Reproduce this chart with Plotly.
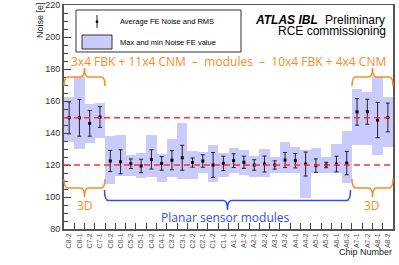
import plotly.graph_objects as go

chips = ["C8-2", "C8-1", "C7-2", "C7-1", "C6-2", "C6-1", "C5-2", "C5-1",
         "C4-2", "C4-1", "C3-2", "C3-1", "C2-2", "C2-1", "C1-2", "C1-1",
         "A1-1", "A1-2", "A2-1", "A2-2", "A3-1", "A3-2", "A4-1", "A4-2",
         "A5-1", "A5-2", "A6-1", "A6-2", "A7-1", "A7-2", "A8-1", "A8-2"]
avg_noise = [149.5, 149.5, 146.0, 150.0, 122.5, 122.0, 120.8, 119.4,
             123.5, 121.0, 123.0, 124.5, 121.5, 122.5, 120.0, 121.0,
             122.7, 121.7, 120.0, 120.6, 120.0, 123.1, 122.7, 120.6,
             119.6, 120.0, 120.6, 121.2, 153.2, 153.3, 148.1, 149.7]
rms_noise = [10.0, 11.5, 8.0, 6.5, 6.6, 7.5, 3.0, 4.2,
             6.0, 4.3, 6.0, 7.8, 2.9, 3.9, 7.8, 4.5,
             4.3, 3.8, 3.3, 5.0, 2.6, 4.7, 4.5, 7.5,
             4.2, 1.7, 4.9, 7.3, 8.3, 7.8, 11.0, 9.0]
max_noise = [162.7, 175.2, 157.9, 158.5, 138.3, 139.0, 126.3, 127.3,
             138.8, 127.1, 136.0, 146.0, 128.8, 128.3, 132.5, 127.3,
             130.4, 129.4, 125.8, 129.8, 124.8, 134.2, 131.5, 129.4,
             130.4, 125.2, 133.1, 141.4, 167.5, 165.8, 174.8, 162.7]
min_noise = [134.6, 129.8, 133.6, 136.7, 108.0, 113.0, 113.0, 111.7,
             112.5, 109.6, 112.7, 111.0, 111.0, 115.2, 109.6, 112.7,
             114.8, 113.7, 112.7, 112.3, 114.8, 115.2, 114.8, 99.2,
             114.8, 114.8, 114.8, 108.5, 132.5, 132.5, 126.3, 131.5]
ref_levels = [149.5, 120.0]

W, H = 399, 265
X0, X1, Y0, Y1 = 64, 393, 5, 229


def px(x):
    return (x - X0) / (X1 - X0)


def py(y):
    return (Y1 - y) / (Y1 - Y0)


def path(cmds):
    out = []
    for c in cmds:
        op = c[0]
        nums = c[1:]
        pts = []
        for i in range(0, len(nums), 2):
            pts.append(f"{px(nums[i]):.5f},{py(nums[i+1]):.5f}")
        out.append(op + " " + " ".join(pts))
    return " ".join(out)


def brace_h(xl, xr, yend, ybar, ytip, r=4):
    xc = (xl + xr) / 2
    return path([
        ("M", xl, yend),
        ("Q", xl, ybar, xl + r, ybar),
        ("L", xc - r, ybar),
        ("Q", xc, ybar, xc, ytip),
        ("Q", xc, ybar, xc + r, ybar),
        ("L", xr - r, ybar),
        ("Q", xr, ybar, xr, yend),
    ])


ORANGE = "#FA8A28"
BLUE = "#2F4CF5"
BOXC = "#CACAFC"

fig = go.Figure()
fig.add_trace(go.Bar(
    x=chips, y=[a - b for a, b in zip(max_noise, min_noise)], base=min_noise,
    width=1, marker=dict(color=BOXC, line=dict(width=0)), showlegend=False,
))
fig.add_trace(go.Scatter(
    x=chips, y=avg_noise, mode="markers",
    marker=dict(symbol="square", size=3, color="black"),
    error_y=dict(type="data", array=rms_noise, color="#222222", thickness=1, width=2),
    showlegend=False,
))

shapes = []
for lv in ref_levels:
    shapes.append(dict(type="line", xref="paper", yref="y", x0=0, x1=1, y0=lv, y1=lv,
                       line=dict(color="#FF3030", width=1.5, dash="6px,4px")))

# legend box
shapes.append(dict(type="rect", xref="paper", yref="paper", x0=px(76), x1=px(241),
                   y0=py(52), y1=py(10), line=dict(color="#333333", width=1),
                   fillcolor="white"))
shapes.append(dict(type="line", xref="paper", yref="paper", x0=px(97), x1=px(97),
                   y0=py(28), y1=py(15), line=dict(color="#222222", width=1)))
shapes.append(dict(type="rect", xref="paper", yref="paper", x0=px(95.8), x1=px(98.2),
                   y0=py(22.9), y1=py(20.5), line=dict(width=0), fillcolor="black"))
shapes.append(dict(type="rect", xref="paper", yref="paper", x0=px(82), x1=px(112),
                   y0=py(49), y1=py(35), line=dict(color="#333333", width=1),
                   fillcolor=BOXC))

# braces
for xl, xr in [(64, 105), (352, 393)]:
    shapes.append(dict(type="path", xref="paper", yref="paper",
                       path=brace_h(xl, xr, 86, 77, 68),
                       line=dict(color=ORANGE, width=1.5)))
    shapes.append(dict(type="path", xref="paper", yref="paper",
                       path=brace_h(xl, xr, 179, 188, 197),
                       line=dict(color=ORANGE, width=1.5)))
shapes.append(dict(type="path", xref="paper", yref="paper",
                   path=brace_h(104.5, 350.5, 190, 200.5, 210),
                   line=dict(color=BLUE, width=1.5)))

ann = []


def text(x, y, t, size, color="black", xanchor="center", family="Liberation Sans", angle=0):
    ann.append(dict(x=px(x), y=py(y), xref="paper", yref="paper", text=t, showarrow=False,
                    xanchor=xanchor, yanchor="middle", textangle=angle,
                    font=dict(size=size, color=color, family=family)))


text(118, 21.7, "Average FE Noise and RMS", 7.5, xanchor="left")
text(118, 42.7, "Max and min Noise FE value", 7.5, xanchor="left")
text(320, 20, "<b><i>ATLAS IBL</i></b>", 12, xanchor="right")
text(323, 20, "Preliminary", 12, xanchor="left")
text(388, 31.5, "RCE commissioning", 12, xanchor="right")
text(228, 61, "3x4 FBK + 11x4 CNM  \u2013  modules  \u2013  10x4 FBK + 4x4 CNM", 12,
     color=ORANGE, family="Open Sans")
text(85, 205, "3D", 12, color=ORANGE, family="Open Sans")
text(372, 205, "3D", 12, color=ORANGE, family="Open Sans")
text(225, 217, "Planar sensor modules", 12, color=BLUE, family="Open Sans")
text(394, 252.5, "Chip Number", 9, xanchor="right", color="#222222")
text(40, 20, "Noise [e]", 9, color="#222222", angle=-90)

fig.update_layout(
    width=W, height=H,
    margin=dict(l=X0, r=W - X1, t=Y0, b=H - Y1, pad=0, autoexpand=False),
    paper_bgcolor="white", plot_bgcolor="white",
    bargap=0, showlegend=False, hovermode=False,
    shapes=shapes, annotations=ann,
    font=dict(family="Liberation Sans", color="#333333"),
)
fig.update_xaxes(
    type="category", range=[-0.5, 31.5], tickson="boundaries",
    ticks="inside", ticklen=6, tickcolor="#444444", tickangle=-90,
    tickfont=dict(size=7, color="#555555"),
    showline=True, linecolor="#555555", linewidth=1.5, mirror=True,
    showgrid=False, zeroline=False, automargin=False,
)
fig.update_yaxes(
    range=[80, 220], dtick=20, ticks="inside", ticklen=7, tickcolor="#444444",
    minor=dict(ticks="inside", ticklen=3.5, dtick=5, tickcolor="#444444"),
    tickfont=dict(size=9, color="#333333"),
    showline=True, linecolor="#555555", linewidth=2, mirror=True,
    showgrid=False, zeroline=False, automargin=False,
)

fig.write_html(
    "out.html",
    config={"displayModeBar": False, "staticPlot": True},
    post_script="document.body.style.margin='0';document.body.style.padding='0';"
                "document.documentElement.style.overflow='hidden';",
)
